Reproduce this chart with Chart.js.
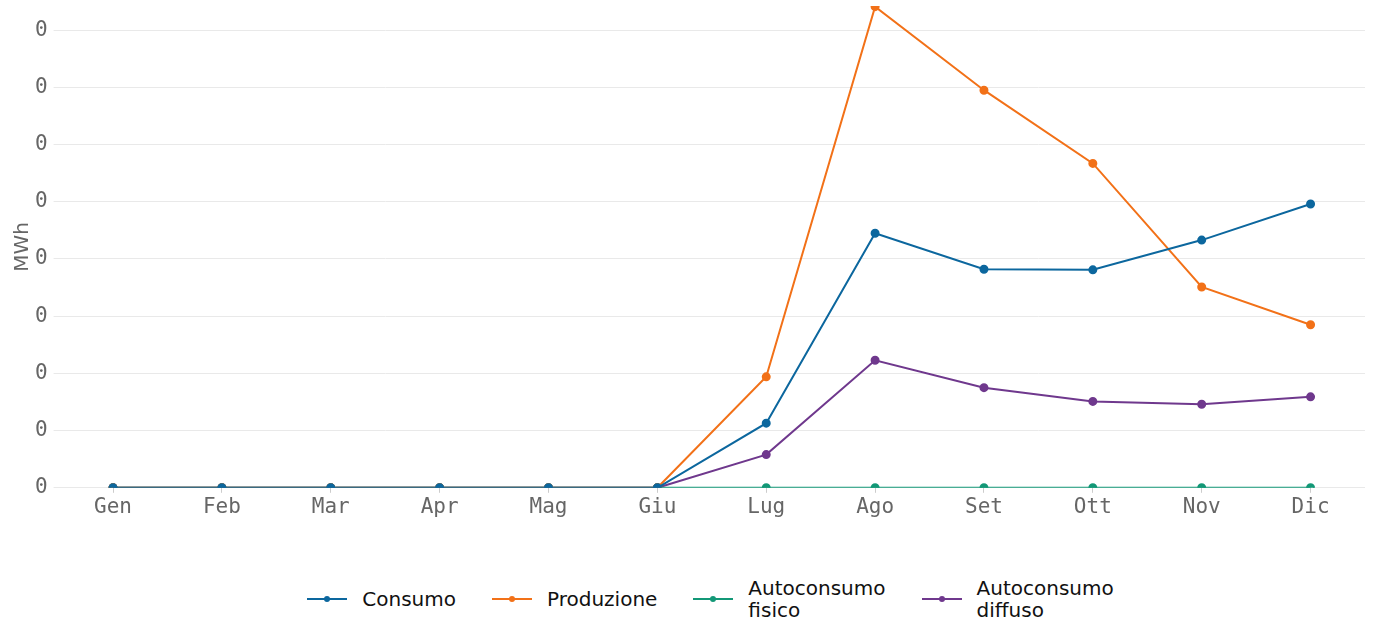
<!DOCTYPE html>
<html>
<head>
<meta charset="utf-8">
<script src="https://cdn.jsdelivr.net/npm/chart.js@4.4.0/dist/chart.umd.min.js"></script>
<style>
  html, body { margin: 0; padding: 0; background: #fff; }
  #wrap { position: relative; width: 1379px; height: 522px; }
  #legend { position: absolute; top: 577px; left: 21px; width: 1379px; display: flex; justify-content: center; font-family: "DejaVu Sans", sans-serif; font-size: 20px; color: #111; }
  .item { display: flex; align-items: center; margin: 0 18px; }
  .sym { position: relative; width: 40px; height: 2px; margin-right: 15px; }
  .sym span { position: absolute; left: 17px; top: -2px; width: 6px; height: 6px; border-radius: 50%; }
  .txt { line-height: 22px; }
</style>
</head>
<body>
<div id="wrap"><canvas id="c"></canvas></div>
<div id="legend"></div>
<script>
// --- Dati ---
const mesi = ['Gen', 'Feb', 'Mar', 'Apr', 'Mag', 'Giu', 'Lug', 'Ago', 'Set', 'Ott', 'Nov', 'Dic'];
const consumo = [0, 0, 0, 0, 0, 0, 11.3, 44.5, 38.2, 38.1, 43.3, 49.6];
const produzione = [0, 0, 0, 0, 0, 0, 19.4, 84.1, 69.5, 56.7, 35.1, 28.5];
const autoconsumoFisico = [0, 0, 0, 0, 0, 0, 0, 0, 0, 0, 0, 0];
const autoconsumoDiffuso = [0, 0, 0, 0, 0, 0, 5.8, 22.3, 17.5, 15.1, 14.6, 15.9];

const serie = [
    { label: ['Consumo'], data: consumo, color: '#0c679e' },
    { label: ['Produzione'], data: produzione, color: '#f27118' },
    { label: ['Autoconsumo', 'fisico'], data: autoconsumoFisico, color: '#139877' },
    { label: ['Autoconsumo', 'diffuso'], data: autoconsumoDiffuso, color: '#6f388d' }
];

const mono = '"DejaVu Sans Mono", monospace';

new Chart(document.getElementById('c'), {
    type: 'line',
    data: {
        labels: mesi,
        datasets: serie.map(s => ({
            label: s.label.join(' '),
            data: s.data,
            borderColor: s.color,
            backgroundColor: s.color,
            borderWidth: 2,
            pointRadius: 3.5,
            pointHoverRadius: 4,
            tension: 0
        }))
    },
    options: {
        responsive: true,
        maintainAspectRatio: false,
        animation: false,
        layout: { padding: { top: 0, right: 14, left: 0, bottom: 0 } },
        plugins: { legend: { display: false }, tooltip: { enabled: false } },
        scales: {
            x: {
                offset: true,
                grid: { drawOnChartArea: false, tickLength: 5, color: '#cccccc' },
                border: { display: false },
                ticks: { font: { family: mono, size: 21 }, color: '#666666', padding: 2 }
            },
            y: {
                min: 0,
                max: 84.2,
                afterFit: (scale) => { scale.width = 58.6; },
                grid: { color: '#e9e9e9', tickLength: 5 },
                border: { display: false },
                ticks: {
                    stepSize: 10,
                    includeBounds: false,
                    font: { family: mono, size: 21, lineHeight: 0.01 },
                    color: '#666666',
                    padding: 6,
                    callback: () => '0'
                },
                title: { display: true, text: 'MWh', font: { family: '"DejaVu Sans", sans-serif', size: 20 }, color: '#666666', padding: { top: 11, bottom: 0 } }
            }
        }
    }
});

// --- Legenda ---
const legend = document.getElementById('legend');
serie.forEach(s => {
    const item = document.createElement('div');
    item.className = 'item';
    item.innerHTML = `<div class="sym" style="background:${s.color}"><span style="background:${s.color}"></span></div><div class="txt">${s.label.join('<br>')}</div>`;
    legend.appendChild(item);
});
</script>
</body>
</html>
